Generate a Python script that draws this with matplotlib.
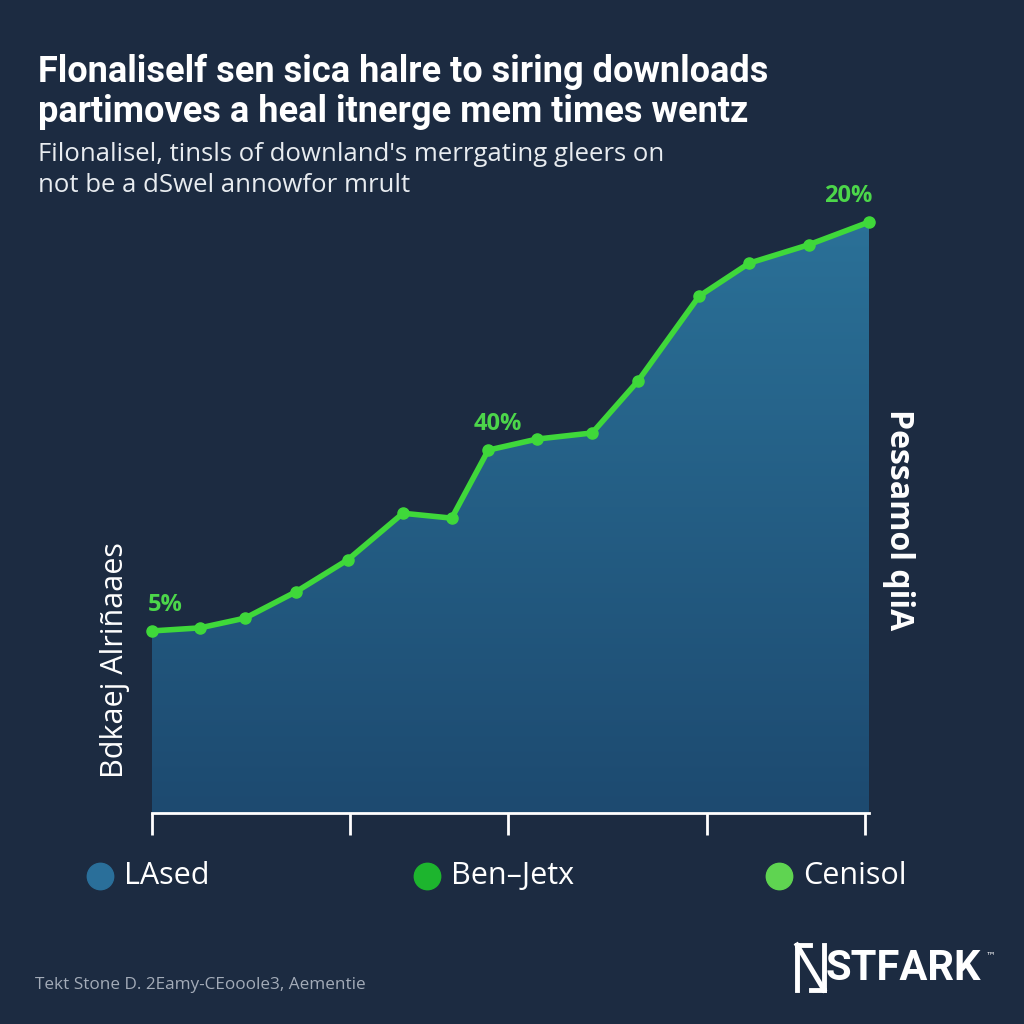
import matplotlib.pyplot as plt
import numpy as np
from matplotlib.patches import Polygon
from matplotlib.lines import Line2D
from matplotlib.colors import LinearSegmentedColormap

# data (x as position along axis, y as share value in chart units)
x = [0, 6.7, 13.0, 20.1, 27.3, 35.0, 41.8, 46.9, 53.7, 61.4, 67.8, 76.3, 83.3, 91.6, 100]
y = [29.7, 30.2, 31.8, 36.1, 41.3, 48.9, 48.1, 59.2, 61.0, 62.0, 70.5, 84.3, 89.7, 92.7, 96.4]
tick_pos = [0, 27.6, 49.7, 77.4, 99.4]
ann_idx = [0, 7, 14]
ann_txt = ['5%', '40%', '20%']
legend_labels = ['LAsed', 'Ben\u2013Jetx', 'Cenisol']
legend_colors = ['#2a6f9a', '#1db52e', '#5fd451']

bg = '#1c2b41'
green = '#3fd83a'

fig = plt.figure(figsize=(10.24, 10.24), dpi=100, facecolor=bg)
ax = fig.add_axes([152/1024, 1-813/1024, 717/1024, 613/1024])
ax.set_facecolor(bg)
ax.set_xlim(0, 100)
ax.set_ylim(0, 100)

# gradient area fill
grad = np.linspace(0, 1, 256).reshape(-1, 1)
cmap = LinearSegmentedColormap.from_list('g', ['#1d4a70', '#2b7299'])
im = ax.imshow(grad, extent=[0, 100, 0, 100], origin='lower', cmap=cmap,
               aspect='auto', zorder=1)
poly = Polygon(list(zip(x, y)) + [(100, 0), (0, 0)], closed=True,
               facecolor='none', edgecolor='none')
ax.add_patch(poly)
im.set_clip_path(poly)

ax.plot(x, y, color=green, lw=4, marker='o', ms=8, zorder=3, clip_on=False)

offs = [(-3, 10, 'left'), (7, 10, 'center'), (-15, 10, 'center')]
for i, t, (dx, dy, ha) in zip(ann_idx, ann_txt, offs):
    ax.annotate(t, (x[i], y[i]), xytext=(dx, dy), textcoords='offset points',
                ha=ha, va='bottom', color='#4cd64a',
                fontsize=17, fontweight='bold', family='Open Sans')

for s in ['top', 'right', 'left']:
    ax.spines[s].set_visible(False)
ax.spines['bottom'].set_color('white')
ax.spines['bottom'].set_linewidth(2)
ax.set_xticks(tick_pos)
ax.set_xticklabels([])
ax.set_yticks([])
ax.tick_params(axis='x', length=16, width=2, color='white', direction='out')

# titles
fig.text(38/1024, 1-82/1024, 'Flonaliself sen sica halre to siring downloads',
         color='white', fontsize=26, fontweight='bold', family='Roboto')
fig.text(38/1024, 1-122/1024, 'partimoves a heal itnerge mem times wentz',
         color='white', fontsize=26, fontweight='bold', family='Roboto')
fig.text(38/1024, 1-161/1024, "Filonalisel, tinsls of downland's merrgating gleers on",
         color='#e8ecf0', fontsize=18.5, family='Open Sans')
fig.text(38/1024, 1-192/1024, 'not be a dSwel annowfor mrult',
         color='#e8ecf0', fontsize=18.5, family='Open Sans')

# side labels
fig.text(115/1024, 1-660/1024, 'Bdkaej Alri\u00f1aaes', rotation=90, color='white',
         fontsize=22, ha='center', va='center', family='Open Sans')
fig.text(898/1024, 1-520/1024, 'Pessamol qiiA', rotation=270, color='white',
         fontsize=23, ha='center', va='center', family='Open Sans', fontweight='bold')

# legend
lx = [100, 427, 779]
for px, lab, c in zip(lx, legend_labels, legend_colors):
    fig.add_artist(Line2D([px/1024], [1-876/1024], marker='o', ms=19, color=c,
                          transform=fig.transFigure))
    fig.text((px+24)/1024, 1-876/1024, lab, color='white', fontsize=22,
             va='center', family='Open Sans')

# footer
fig.text(35/1024, 1-985/1024, 'Tekt Stone D. 2Eamy-CEooole3, Aementie',
         color='#a3abb8', fontsize=12.3, va='center', family='Open Sans')
fig.text(826/1024, 1-968/1024, 'STFARK', color='white', fontsize=30,
         fontweight='bold', va='center', family='Roboto')
fig.text(986/1024, 1-955/1024, '\u2122', color='white', fontsize=7, va='center')
for seg in [([797, 797], [945, 990]), ([797, 824], [945, 990]), ([824, 824], [945, 990]),
            ([797, 810], [945, 945]), ([811, 824], [990, 990])]:
    fig.add_artist(Line2D([v/1024 for v in seg[0]], [1-v/1024 for v in seg[1]],
                          color='white', lw=3.5, transform=fig.transFigure))

fig.savefig('out.png', dpi=100, facecolor=bg)
